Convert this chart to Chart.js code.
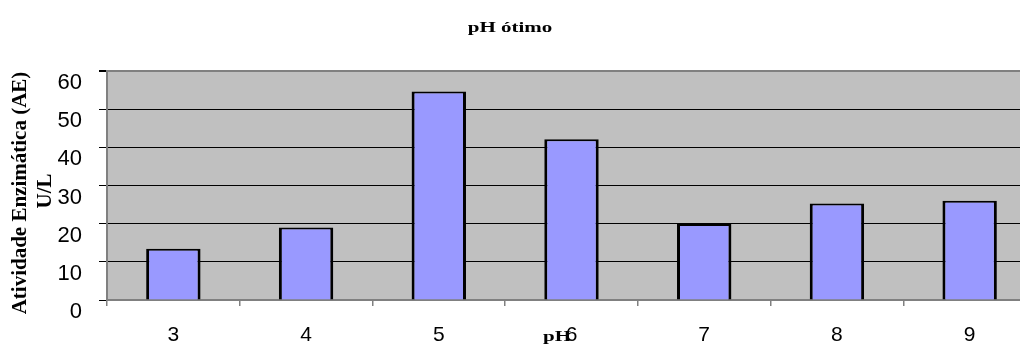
<!doctype html>
<html lang="pt">
<meta charset="utf-8">

<head>
    <script src="https://cdn.jsdelivr.net/npm/chart.js"></script>
</head>

<style>
    body {
        margin: 0;
        background: #fff;
    }

    #caixa {
        width: 1020px;
        height: 349px;
        overflow: hidden;
    }
</style>

<body>

    <div id="caixa">
        <canvas id="barChart" width="1036" height="349"></canvas>
    </div>

    <script>
        // dados do grafico
        const phs = ['3', '4', '5', '6', '7', '8', '9'];
        const atividade = [13.4, 19.0, 54.6, 42.1, 19.9, 25.3, 26.0];
        const yTicks = [0, 10, 20, 30, 40, 50, 60];

        const serif = '"Liberation Serif", "Times New Roman", serif';
        const sans = '"Liberation Sans", Arial, sans-serif';

        // fundo cinza da area do grafico
        const fundo = {
            id: 'fundo',
            beforeDraw(chart) {
                const { ctx, chartArea: a } = chart;
                ctx.save();
                ctx.fillStyle = '#c0c0c0';
                ctx.fillRect(a.left, a.top, a.right - a.left, a.bottom - a.top);
                ctx.restore();
            }
        };

        // titulos (texto esticado como no original)
        const titulos = {
            id: 'titulos',
            afterDraw(chart) {
                const ctx = chart.ctx;
                ctx.save();
                ctx.fillStyle = '#000';
                ctx.textAlign = 'center';
                ctx.textBaseline = 'alphabetic';

                ctx.font = 'bold 15px ' + serif;
                ctx.setTransform(1.4, 0, 0, 1, 510, 32);
                ctx.fillText('pH ótimo', 0, 0);

                ctx.setTransform(1.4, 0, 0, 1, 557, 341);
                ctx.fillText('pH', 0, 0);

                ctx.setTransform(1, 0, 0, 1, 0, 0);
                ctx.font = 'bold 21px ' + serif;
                ctx.textBaseline = 'middle';
                ctx.translate(21, 193);
                ctx.rotate(-Math.PI / 2);
                ctx.fillText('Atividade Enzimática (AE)', 0, 0);
                ctx.fillText('U/L', 2, 25);
                ctx.restore();
            }
        };

        const config = {
            type: 'bar',
            data: {
                labels: phs,
                datasets: [{
                    label: 'Atividade',
                    data: atividade,
                    backgroundColor: '#9999ff',
                    borderColor: '#000',
                    borderWidth: { top: 2, left: 3, right: 3, bottom: 0 },
                    barPercentage: 0.41,
                    categoryPercentage: 1
                }]
            },
            options: {
                responsive: false,
                animation: false,
                layout: {
                    padding: { top: 71, left: 0, right: 0, bottom: 0 }
                },
                plugins: {
                    legend: { display: false },
                    title: { display: false },
                    tooltip: { enabled: false }
                },
                scales: {
                    x: {
                        afterFit: (s) => { s.height = 49; },
                        border: { color: '#808080', width: 2 },
                        grid: {
                            offset: true,
                            drawOnChartArea: false,
                            tickLength: 6,
                            tickColor: '#808080',
                            lineWidth: 1.5
                        },
                        ticks: {
                            color: '#000',
                            padding: 17,
                            font: { family: sans, size: 21 }
                        }
                    },
                    y: {
                        min: 0,
                        max: 60,
                        afterFit: (s) => { s.width = 107; },
                        afterBuildTicks: (s) => { s.ticks = yTicks.map(v => ({ value: v })); },
                        border: { color: '#808080', width: 2 },
                        grid: {
                            color: (c) => c.tick.value === 60 ? '#808080' : '#000',
                            lineWidth: (c) => c.tick.value === 60 ? 2 : 1,
                            tickLength: 8,
                            tickColor: '#000'
                        },
                        ticks: {
                            color: '#000',
                            padding: 17,
                            labelOffset: 12,
                            font: { family: sans, size: 22 }
                        }
                    }
                }
            },
            plugins: [fundo, titulos]
        };

        new Chart(document.getElementById('barChart'), config);
    </script>
</body>

</html>
